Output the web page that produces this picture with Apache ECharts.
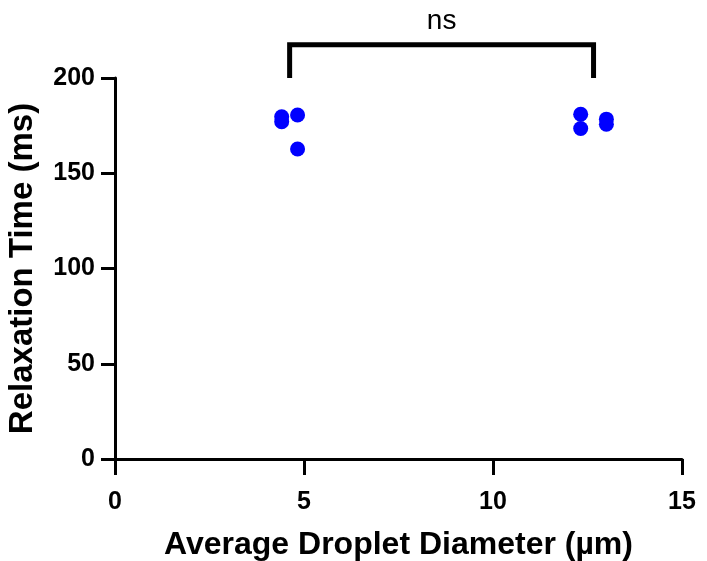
<!DOCTYPE html>
<html>
<head>
<meta charset="utf-8">
<script src="https://cdn.jsdelivr.net/npm/echarts@6/dist/echarts.min.js"></script>
<style>
  html, body { margin: 0; padding: 0; background: #fff; }
  #chart { width: 707px; height: 561px; }
</style>
</head>
<body>
<div id="chart"></div>
<script>
// Relaxation time measured for two droplet-size groups
const groupSmallDiameter = [4.41, 4.41, 4.83, 4.83];
const groupSmallTime = [179.6, 177.0, 180.6, 162.7];
const groupLargeDiameter = [12.32, 12.32, 13.0, 13.0];
const groupLargeTime = [181.0, 173.5, 178.4, 175.7];

const xTicks = [0, 5, 10, 15];
const yTicks = [0, 50, 100, 150, 200];

// significance bracket between group means
const bracketLeft = 4.62;
const bracketRight = 12.66;
const bracketBase = 200;
const bracketTop = 217.5;
const significanceLabel = 'ns';
const labelHeight = 230;

const font = 'Arial, "Liberation Sans", sans-serif';

const smallPts = groupSmallDiameter.map((x, i) => [x, groupSmallTime[i]]);
const largePts = groupLargeDiameter.map((x, i) => [x, groupLargeTime[i]]);
const bracket = [
  [bracketLeft, bracketBase],
  [bracketLeft, bracketTop],
  [bracketRight, bracketTop],
  [bracketRight, bracketBase]
];

const chart = echarts.init(document.getElementById('chart'), null, { renderer: 'canvas' });

const axisLineStyle = { color: '#000', width: 3 };

chart.setOption({
  animation: false,
  backgroundColor: '#fff',
  grid: {
    left: 115, right: 25, top: 78, bottom: 102,
    containLabel: false,
    outerBoundsMode: 'none'
  },
  xAxis: {
    type: 'value',
    min: xTicks[0],
    max: xTicks[xTicks.length - 1],
    interval: 5,
    splitLine: { show: false },
    axisLine: { show: true, lineStyle: axisLineStyle },
    axisTick: { show: true, length: 16, lineStyle: axisLineStyle },
    axisLabel: { margin: 31, color: '#000', fontFamily: font, fontWeight: 'bold', fontSize: 25 },
    name: 'Average Droplet Diameter (µm)',
    nameLocation: 'middle',
    nameGap: 70,
    nameTextStyle: { color: '#000', fontFamily: font, fontWeight: 'bold', fontSize: 32 }
  },
  yAxis: {
    type: 'value',
    min: yTicks[0],
    max: yTicks[yTicks.length - 1],
    interval: 50,
    splitLine: { show: false },
    axisLine: { show: true, lineStyle: axisLineStyle },
    axisTick: { show: true, length: 14, lineStyle: axisLineStyle },
    axisLabel: { margin: 20, color: '#000', fontFamily: font, fontWeight: 'bold', fontSize: 25 },
    name: 'Relaxation Time (ms)',
    nameLocation: 'middle',
    nameGap: 76,
    nameTextStyle: { color: '#000', fontFamily: font, fontWeight: 'bold', fontSize: 33 }
  },
  series: [
    {
      type: 'scatter',
      data: smallPts,
      symbol: 'circle',
      symbolSize: 15,
      itemStyle: { color: '#0000ff', opacity: 1 }
    },
    {
      type: 'scatter',
      data: largePts,
      symbol: 'circle',
      symbolSize: 15,
      itemStyle: { color: '#0000ff', opacity: 1 }
    },
    {
      type: 'line',
      data: bracket,
      clip: false,
      symbol: 'none',
      lineStyle: { color: '#000', width: 5, join: 'miter', cap: 'butt' }
    },
    {
      type: 'scatter',
      clip: false,
      symbolSize: 1,
      silent: true,
      itemStyle: { color: 'rgba(0,0,0,0)', opacity: 1 },
      data: [[(bracketLeft + bracketRight) / 2, labelHeight]],
      label: {
        show: true,
        position: 'inside',
        formatter: significanceLabel,
        color: '#000',
        opacity: 1,
        textBorderWidth: 0,
        fontFamily: font,
        fontSize: 28
      }
    }
  ]
});
</script>
</body>
</html>
